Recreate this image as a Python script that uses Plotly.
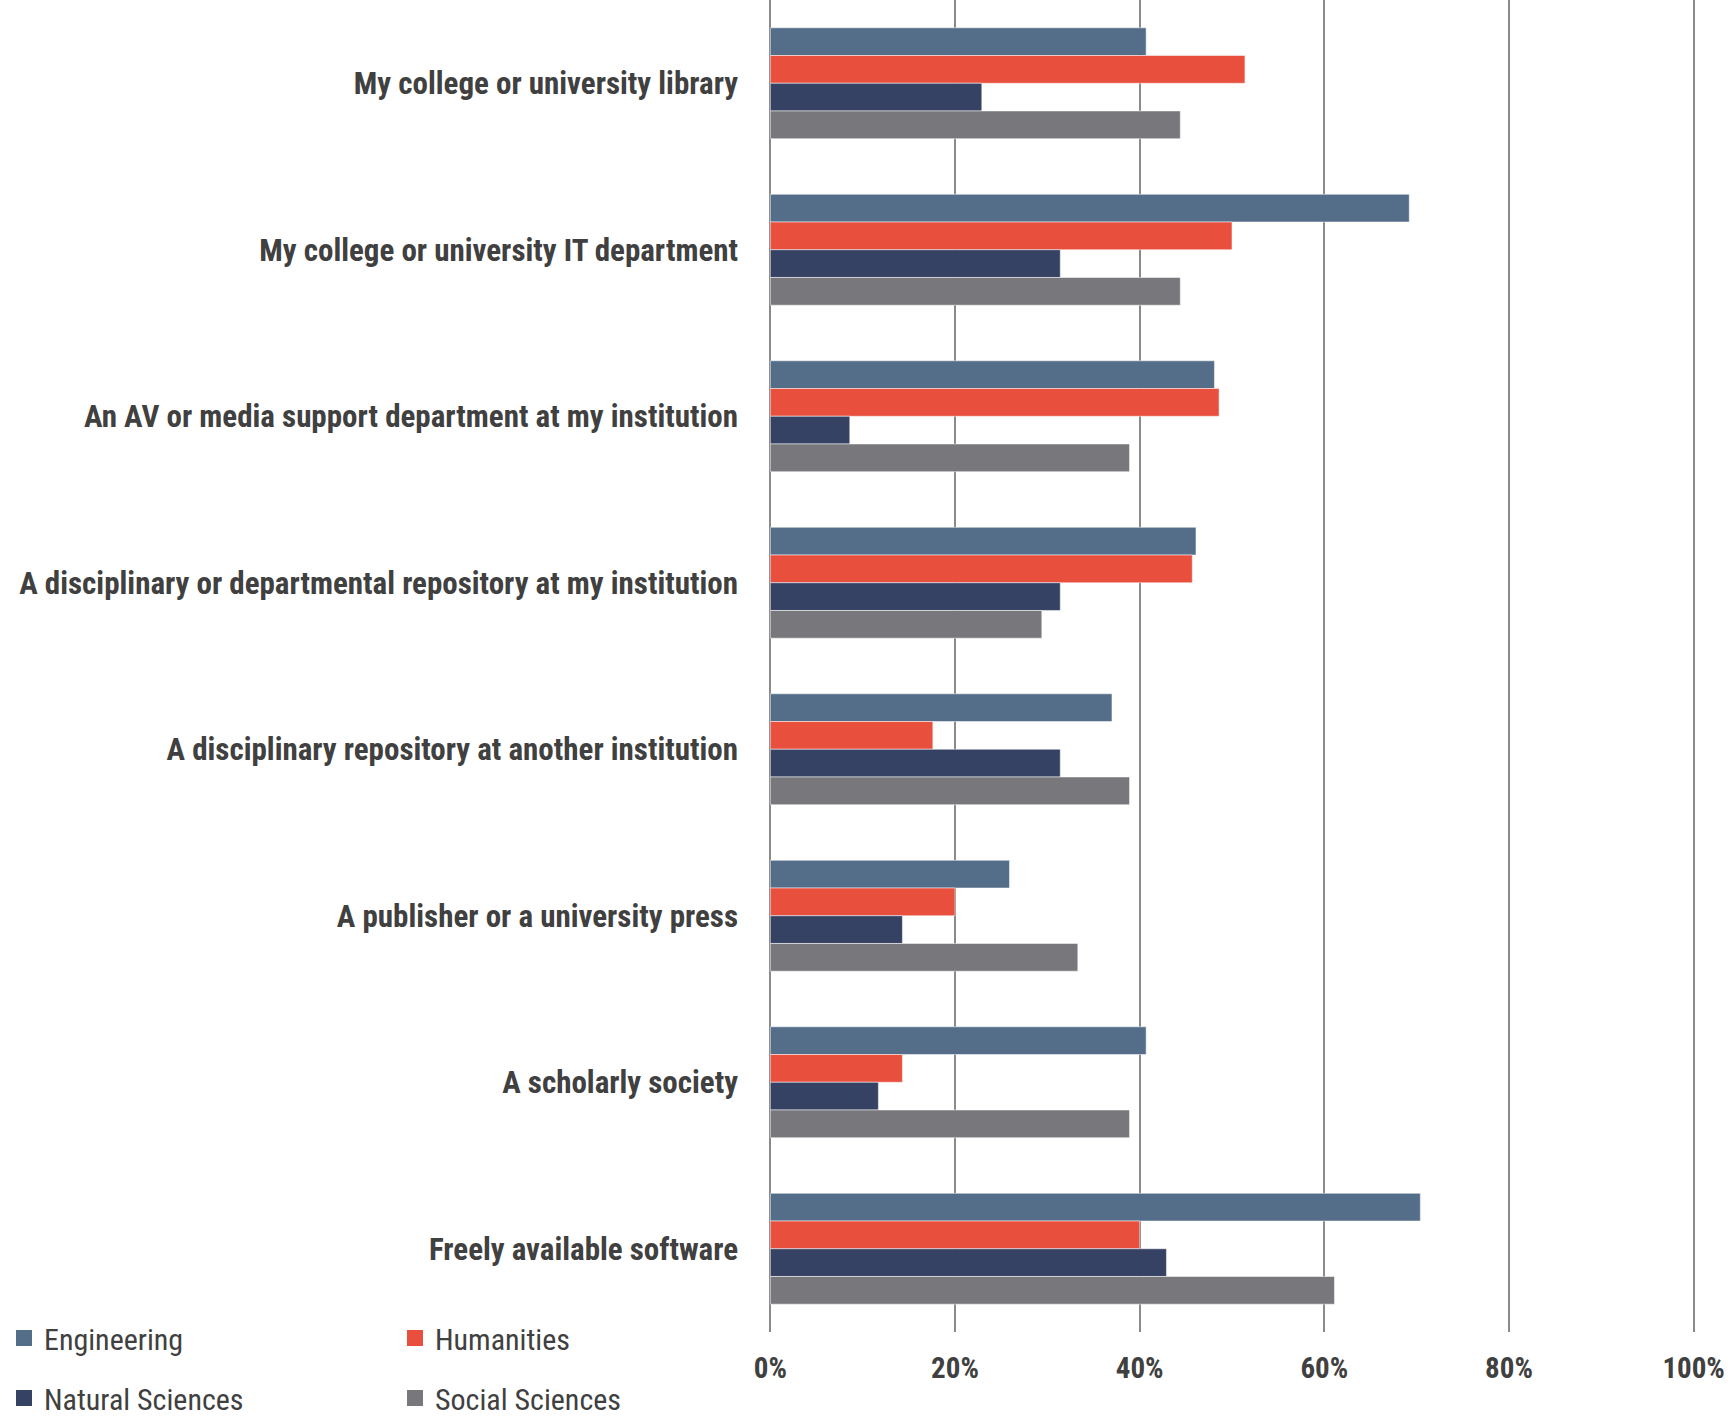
import plotly.graph_objects as go

# Sources of support, listed top to bottom
categories = [
    "My college or university library",
    "My college or university IT department",
    "An AV or media support department at my institution",
    "A disciplinary or departmental repository at my institution",
    "A disciplinary repository at another institution",
    "A publisher or a university press",
    "A scholarly society",
    "Freely available software",
]

# Share of respondents per discipline (fraction of 1)
engineering = [0.407, 0.692, 0.481, 0.461, 0.370, 0.259, 0.407, 0.704]
humanities = [0.514, 0.500, 0.486, 0.457, 0.176, 0.200, 0.143, 0.400]
natural_sciences = [0.229, 0.314, 0.086, 0.314, 0.314, 0.143, 0.117, 0.429]
social_sciences = [0.444, 0.444, 0.389, 0.294, 0.389, 0.333, 0.389, 0.611]

tick_values = [0, 0.2, 0.4, 0.6, 0.8, 1.0]
tick_labels = ["0%", "20%", "40%", "60%", "80%", "100%"]

series = [
    ("Engineering", engineering, "#546e8a", "legend"),
    ("Humanities", humanities, "#e94f3d", "legend"),
    ("Natural Sciences", natural_sciences, "#364264", "legend2"),
    ("Social Sciences", social_sciences, "#78787c", "legend2"),
]

NARROW = "Liberation Sans Narrow, Arial Narrow, Roboto Condensed, DejaVu Sans Condensed, sans-serif"
TEXT = "#404040"

fig = go.Figure()
for name, vals, color, leg in series:
    fig.add_trace(go.Bar(
        name=name,
        y=categories,
        x=vals,
        orientation="h",
        marker=dict(color=color, line=dict(color="rgba(255,255,255,0.5)", width=1)),
        showlegend=False,
        hoverinfo="x+y+name",
    ))

# Legend keys: square swatches in the series colours
for name, vals, color, leg in series:
    fig.add_trace(go.Scatter(
        name=name,
        x=[None],
        y=[None],
        mode="markers",
        marker=dict(symbol="square", size=16, color=color),
        legend=leg,
        showlegend=True,
        hoverinfo="skip",
    ))

legend_common = dict(
    orientation="h",
    xref="container",
    yref="container",
    x=4 / 1736,
    xanchor="left",
    yanchor="middle",
    bgcolor="rgba(0,0,0,0)",
    font=dict(family=NARROW, size=30, color=TEXT),
    entrywidth=346,
    entrywidthmode="pixels",
    itemclick=False,
    itemdoubleclick=False,
    itemwidth=30,
)

# small padding on the value range so the 0% and 100% grid lines are drawn
pad = 0.0015
fig.update_layout(
    width=1736,
    height=1420,
    paper_bgcolor="white",
    plot_bgcolor="white",
    barmode="group",
    bargap=0.334,
    bargroupgap=0,
    margin=dict(l=768.6, r=40.6, t=0, b=88, autoexpand=False),
    showlegend=True,
    legend=dict(**legend_common, y=1 - 1338 / 1420),
    legend2=dict(**legend_common, y=1 - 1398 / 1420),
    xaxis=dict(
        range=[-pad, 1.0 + pad],
        tickvals=tick_values,
        ticktext=tick_labels,
        showgrid=True,
        gridcolor="#8a8a8a",
        gridwidth=1.5,
        zeroline=False,
        showline=False,
        tickfont=dict(family=NARROW, size=29, color=TEXT, weight="bold"),
        ticks="",
        ticklabelstandoff=16,
        automargin=False,
        fixedrange=True,
    ),
    yaxis=dict(
        autorange="reversed",
        showgrid=False,
        zeroline=False,
        showline=False,
        ticks="",
        tickfont=dict(family=NARROW, size=31, color=TEXT, weight="bold"),
        ticklabelstandoff=30,
        automargin=False,
        fixedrange=True,
    ),
)

fig.write_html("out.html")
